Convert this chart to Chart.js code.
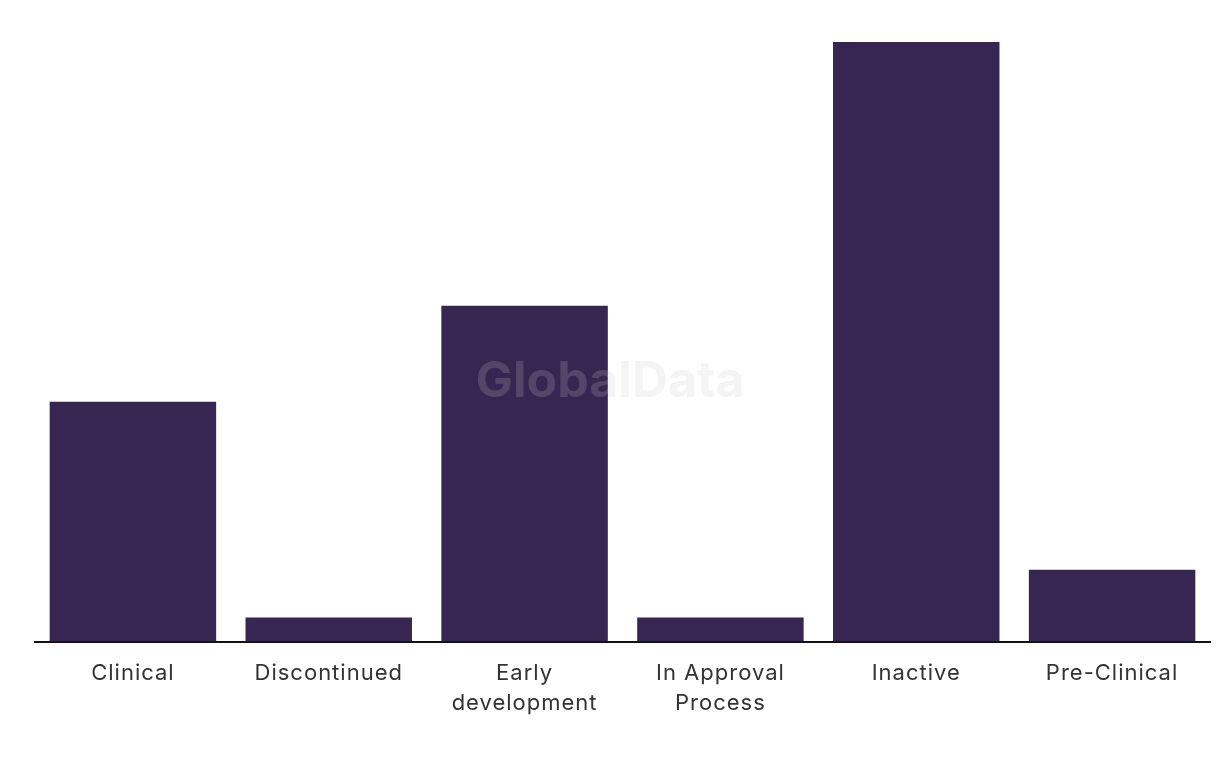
<!DOCTYPE html>
<html>
<head>
<meta charset="utf-8">
<script src="https://cdn.jsdelivr.net/npm/chart.js@4"></script>
<style>
body{margin:0;background:#fff;}
</style>
</head>
<body>
<canvas id="myChart" width="1220" height="766"></canvas>
<script>
var categories=["Clinical","Discontinued",["Early","development"],["In Approval","Process"],"Inactive","Pre-Clinical"];
var dealCounts=[10,1,14,1,25,3];

// a little letter spacing for the tick labels, like the original
var spacing={
    id:"spacing",
    beforeDraw:function(chart){
        chart.ctx.letterSpacing="1px";
    }
};

var watermark={
    id:"watermark",
    afterDatasetsDraw:function(chart){
        var ctx=chart.ctx;
        ctx.save();
        ctx.letterSpacing="0px";
        ctx.font="bold 50px Inter, sans-serif";
        ctx.fillStyle="rgba(200,200,200,0.2)";
        ctx.textAlign="center";
        ctx.textBaseline="middle";
        ctx.fillText("GlobalData",610,382);
        ctx.restore();
    }
};

var ctx=document.getElementById("myChart").getContext("2d");
var myChart=new Chart(ctx,{
    type:"bar",
    data:{
        labels:categories,
        datasets:[
            {
                data:dealCounts,
                backgroundColor:"#372552",
                categoryPercentage:0.85,
                barPercentage:1
            }
        ]
    },
    options:{
        responsive:false,
        animation:false,
        layout:{padding:{left:35,right:10,top:42,bottom:39}},
        plugins:{legend:{display:false},tooltip:{enabled:false}},
        scales:{
            x:{
                grid:{display:false},
                border:{display:true,color:"#111",width:2},
                ticks:{color:"#333",font:{size:22,family:"Inter, sans-serif",lineHeight:1.35},padding:9,maxRotation:0}
            },
            y:{
                display:false,
                min:0,
                max:25
            }
        }
    },
    plugins:[spacing,watermark]
});
</script>
</body>
</html>
